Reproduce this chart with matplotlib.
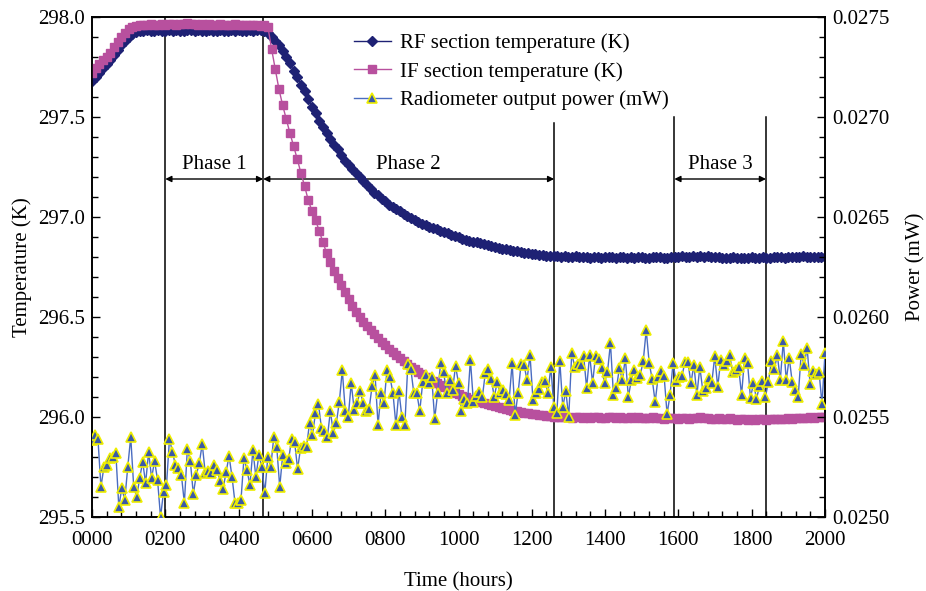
import numpy as np
import matplotlib
matplotlib.use("Agg")
import matplotlib.pyplot as plt
from matplotlib.ticker import MultipleLocator, FuncFormatter

plt.rcParams['font.family'] = ['Liberation Serif', 'DejaVu Serif']
plt.rcParams['font.size'] = 15

# temperatures, one reading every 10 hours (0 .. 2000 h)
hours = np.arange(0, 2001, 10)

rf_temp = [
    297.68, 297.70, 297.72, 297.745, 297.765, 297.785, 297.81, 297.835, 297.86, 297.88, 297.90, 297.915, 297.925, 297.93,
    297.93, 297.935, 297.93, 297.93, 297.935, 297.93, 297.93, 297.935, 297.93, 297.935,
    297.93, 297.93, 297.935, 297.935, 297.93, 297.935, 297.93, 297.93, 297.935, 297.93,
    297.93, 297.935, 297.93, 297.93, 297.935, 297.93, 297.935, 297.93, 297.93, 297.935,
    297.93, 297.935, 297.935,
    297.93, 297.92, 297.90, 297.88, 297.86, 297.83, 297.80, 297.77, 297.73, 297.70,
    297.66, 297.63, 297.59, 297.55, 297.52, 297.48, 297.45, 297.42, 297.39, 297.36,
    297.34, 297.31, 297.28, 297.26, 297.24, 297.22, 297.20, 297.18, 297.16, 297.14,
    297.12, 297.11, 297.09, 297.08, 297.06, 297.05, 297.04, 297.03, 297.015, 297.005,
    296.995, 296.985, 296.975, 296.965, 296.96, 296.95, 296.945, 296.94, 296.93, 296.925,
    296.92, 296.91, 296.905, 296.90, 296.89, 296.885, 296.88, 296.875, 296.875, 296.87,
    296.865, 296.86, 296.855, 296.85, 296.845, 296.84, 296.84, 296.835, 296.83, 296.83,
    296.825, 296.82, 296.82, 296.815, 296.815, 296.81, 296.81, 296.805, 296.805, 296.805,
    296.805, 296.80, 296.805, 296.80, 296.80, 296.805, 296.80, 296.80, 296.80, 296.795,
    296.80, 296.80, 296.795, 296.80, 296.80, 296.80, 296.795, 296.80, 296.80, 296.795,
    296.80, 296.795, 296.80, 296.80, 296.795, 296.795, 296.80, 296.80, 296.80, 296.795,
    296.795, 296.80, 296.80, 296.80, 296.805, 296.80, 296.80, 296.805, 296.80, 296.805,
    296.80, 296.805, 296.80, 296.80, 296.80, 296.795, 296.795, 296.795, 296.80, 296.795,
    296.795, 296.795, 296.795, 296.80, 296.795, 296.795, 296.80, 296.795, 296.795, 296.80,
    296.80, 296.80, 296.795, 296.80, 296.80, 296.80, 296.80, 296.805, 296.80, 296.80,
    296.80, 296.80, 296.80, 296.80,
]

if_temp = [
    297.72, 297.745, 297.765, 297.785, 297.80, 297.82, 297.85, 297.875, 297.90, 297.92, 297.94, 297.95, 297.955,
    297.96, 297.96, 297.96, 297.965, 297.96, 297.96, 297.965, 297.96, 297.965, 297.965,
    297.96, 297.965, 297.965, 297.97, 297.965, 297.965, 297.96, 297.965, 297.96, 297.965,
    297.96, 297.96, 297.965, 297.96, 297.96, 297.96, 297.965, 297.96, 297.96, 297.96,
    297.96, 297.96, 297.96, 297.955, 297.96,
    297.95, 297.84, 297.74, 297.64, 297.56, 297.49, 297.42, 297.355, 297.29, 297.22,
    297.155, 297.085, 297.03, 296.985, 296.93, 296.875, 296.82, 296.775, 296.73, 296.695,
    296.66, 296.625, 296.59, 296.555, 296.525, 296.50, 296.475, 296.455, 296.435, 296.415,
    296.395, 296.375, 296.36, 296.34, 296.325, 296.31, 296.295, 296.28, 296.265, 296.25,
    296.24, 296.225, 296.215, 296.20, 296.19, 296.18, 296.17, 296.16, 296.15, 296.14,
    296.13, 296.12, 296.115, 296.105, 296.10, 296.09, 296.085, 296.08, 296.075, 296.07,
    296.065, 296.06, 296.055, 296.05, 296.045, 296.04, 296.035, 296.03, 296.03, 296.025,
    296.02, 296.02, 296.015, 296.015, 296.01, 296.01, 296.005, 296.005, 296.0, 296.0,
    296.0, 296.0, 296.0, 295.995, 296.0, 296.0, 295.995, 296.0, 295.995, 296.0,
    296.0, 295.995, 295.995, 296.0, 296.0, 295.995, 296.0, 295.995, 295.995, 296.0,
    295.995, 296.0, 295.995, 295.995, 295.995, 296.0, 295.995, 295.995, 295.99, 295.995,
    295.995, 295.995, 295.99, 295.995, 295.995, 295.99, 295.995, 295.995, 296.0, 295.995,
    295.995, 295.99, 295.99, 295.995, 295.99, 295.99, 295.995, 295.99, 295.985, 295.99,
    295.99, 295.985, 295.99, 295.985, 295.99, 295.99, 295.985, 295.99, 295.99, 295.99,
    295.99, 295.99, 295.995, 295.99, 295.995, 295.995, 295.995, 295.995, 296.0, 295.995,
    296.0, 296.0, 296.0,
]

# radiometer output power (mW), sampled about every 8 hours
power_mw = [
    0.025385, 0.025410, 0.025390, 0.025150, 0.025250, 0.025260, 0.025295, 0.025300, 0.025320, 0.025050,
    0.025145, 0.025085, 0.025250, 0.025400, 0.025150, 0.025100, 0.025195, 0.025275, 0.025170, 0.025325,
    0.025195, 0.025280, 0.025185, 0.025000, 0.025125, 0.025160, 0.025390, 0.025325, 0.025260, 0.025245,
    0.025210, 0.025070, 0.025340, 0.025280, 0.025115, 0.025210, 0.025270, 0.025365, 0.025220, 0.025230,
    0.025220, 0.025260, 0.025235, 0.025180, 0.025140, 0.025225, 0.025305, 0.025200, 0.025070, 0.025070,
    0.025085, 0.025295, 0.025235, 0.025160, 0.025335, 0.025200, 0.025310, 0.025250, 0.025120,
    0.025300, 0.025250, 0.025400, 0.025350, 0.025150, 0.025310, 0.025270, 0.025290, 0.025390, 0.025375,
    0.025240, 0.025345, 0.025355, 0.025350, 0.025470, 0.025410, 0.025520, 0.025565, 0.025445, 0.025430,
    0.025400, 0.025530, 0.025420, 0.025470, 0.025575, 0.025735, 0.025530, 0.025500, 0.025670, 0.025535,
    0.025570, 0.025630, 0.025570, 0.025530, 0.025540, 0.025655, 0.025710, 0.025460, 0.025620, 0.025570,
    0.025735, 0.025700, 0.025620, 0.025460, 0.025630, 0.025500, 0.025460, 0.025765, 0.025740, 0.025620,
    0.025620, 0.025530, 0.025675, 0.025710, 0.025670, 0.025700, 0.025490, 0.025620, 0.025770, 0.025725,
    0.025620, 0.025685,
    0.025635, 0.025755, 0.025670, 0.025530, 0.025590, 0.025570, 0.025785, 0.025575, 0.025605, 0.025625,
    0.025600, 0.025720, 0.025740, 0.025690, 0.025600, 0.025675, 0.025620, 0.025635, 0.025615, 0.025585,
    0.025770, 0.025510, 0.025620, 0.025765, 0.025760, 0.025685, 0.025810, 0.025585, 0.025620, 0.025640,
    0.025675, 0.025680, 0.025620, 0.025750, 0.025550, 0.025520, 0.025780, 0.025550, 0.025630, 0.025500,
    0.025820, 0.025750, 0.025765, 0.025760, 0.025805, 0.025645, 0.025810, 0.025670, 0.025805, 0.025790,
    0.025745, 0.025670, 0.025725, 0.025870, 0.025610, 0.025645, 0.025745, 0.025685, 0.025795, 0.025600,
    0.025685, 0.025735, 0.025695, 0.025710, 0.025780, 0.025935,
    0.025770, 0.025690, 0.025575, 0.025700, 0.025730, 0.025705, 0.025515, 0.025610, 0.025770, 0.025680,
    0.025700, 0.025705, 0.025775, 0.025775, 0.025670, 0.025760, 0.025610, 0.025750, 0.025630, 0.025645,
    0.025695, 0.025670, 0.025805, 0.025650, 0.025785, 0.025760, 0.025780, 0.025810, 0.025725, 0.025735,
    0.025750, 0.025610, 0.025795, 0.025770, 0.025595, 0.025670, 0.025590, 0.025655, 0.025680, 0.025600,
    0.025675, 0.025780, 0.025740, 0.025810, 0.025685, 0.025880, 0.025685, 0.025795, 0.025675, 0.025635,
    0.025600, 0.025815, 0.025760, 0.025845, 0.025665, 0.025730, 0.025715, 0.025725, 0.025565, 0.025820,
]
power_hours = np.linspace(0, 2000, len(power_mw))

# phase boundaries (hours) and labels
phase_bounds = [(200, 467), (467, 1261), (1589, 1839)]
phase_names = ['Phase 1', 'Phase 2', 'Phase 3']
line_tops = [298.0, 298.0, 297.47, 297.5, 297.5]
line_hours = [200, 467, 1261, 1589, 1839]
arrow_temp = 297.19

RF_COL = '#1e2174'
IF_COL = '#b8509e'

fig = plt.figure(figsize=(9.26, 5.91), dpi=100)
ax = fig.add_axes([92 / 926, 1 - 517 / 591, 733 / 926, 500 / 591])
ax2 = ax.twinx()

l1, = ax.plot(hours, rf_temp, color=RF_COL, lw=1, marker='D', ms=5.3,
              mec=RF_COL, mfc=RF_COL, label='RF section temperature (K)', zorder=3)
l2, = ax.plot(hours, if_temp, color=IF_COL, lw=1, marker='s', ms=6,
              mec=IF_COL, mfc=IF_COL, label='IF section temperature (K)', zorder=4)
l3, = ax2.plot(power_hours, power_mw, color='#4a6cc0', lw=1, marker='^', ms=7,
               mfc='#3b59a8', mec='#eeee00', mew=1.2, label='Radiometer output power (mW)', zorder=5)

# phase markers
for h, top in zip(line_hours, line_tops):
    ax.plot([h, h], [295.5, top], color='black', lw=1.1, zorder=2)
for (a, b), name in zip(phase_bounds, phase_names):
    ax.annotate('', xy=(a, arrow_temp), xytext=(b, arrow_temp),
                arrowprops=dict(arrowstyle='<|-|>', color='black', lw=1,
                                mutation_scale=9, shrinkA=0, shrinkB=0), zorder=2)
    ax.text((a + b) / 2, arrow_temp + 0.025, name, ha='center', va='bottom', fontsize=15)

ax.set_xlim(0, 2000)
ax.set_ylim(295.5, 298.0)
ax2.set_ylim(0.0250, 0.0275)

ax.xaxis.set_major_locator(MultipleLocator(200))
ax.xaxis.set_minor_locator(MultipleLocator(40))
ax.xaxis.set_major_formatter(FuncFormatter(lambda v, p: f'{int(round(v)):04d}'))
ax.yaxis.set_major_locator(MultipleLocator(0.5))
ax.yaxis.set_minor_locator(MultipleLocator(0.1))
ax.yaxis.set_major_formatter(FuncFormatter(lambda v, p: f'{v:.1f}'))
ax2.yaxis.set_major_locator(MultipleLocator(0.0005))
ax2.yaxis.set_minor_locator(MultipleLocator(0.0001))
ax2.yaxis.set_major_formatter(FuncFormatter(lambda v, p: f'{v:.4f}'))

for a in (ax, ax2):
    a.tick_params(which='both', direction='in', labelsize=15)
    a.tick_params(which='major', length=6, width=1)
    a.tick_params(which='minor', length=4, width=1)
    for s in a.spines.values():
        s.set_linewidth(1.2)
ax.tick_params(axis='x', pad=10)
ax.tick_params(axis='y', pad=5)
ax2.tick_params(axis='y', pad=5)

ax.set_xlabel('Time (hours)', fontsize=15, labelpad=16)
ax.set_ylabel('Temperature (K)', fontsize=15, labelpad=4)
ax2.set_ylabel('Power (mW)', fontsize=15, labelpad=12)

leg = ax2.legend(handles=[l1, l2, l3], loc='upper left', bbox_to_anchor=(0.34, 0.992),
                 frameon=False, fontsize=15, handlelength=1.8, handletextpad=0.4,
                 labelspacing=0.42, borderaxespad=0.2)

fig.savefig('out.png', dpi=100)
